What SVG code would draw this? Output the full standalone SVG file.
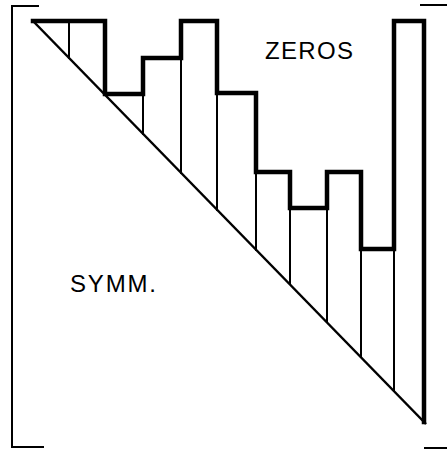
<svg xmlns="http://www.w3.org/2000/svg" width="447" height="449" viewBox="0 0 447 449">
<style>
.thin{stroke:#000;stroke-width:2;fill:none;stroke-linecap:square}
.thick{stroke:#000;stroke-width:4.5;fill:none;stroke-linejoin:miter;stroke-linecap:square}
.diag{stroke:#000;stroke-width:2.5;fill:none}
.lbl{font-family:"Liberation Sans",Arial,sans-serif;font-size:24px;fill:#000}
</style>
<rect width="447" height="449" fill="#fff"/>
<g id="brackets">
<path class="thin" d="M38,6 H12 V447 H43"/>
<path class="thin" d="M421,5 H447"/>
<path class="thin" d="M425,448 H447"/>
</g>
<g id="connectors">
<path class="diag" d="M33,21 L426,424"/>
<path class="thin" d="M69,21 V58 M143,93 V134 M181,58 V173 M217,93 V210 M256,172 V250 M290,208 V284 M327,208 V322 M361,249 V357 M394,249 V391"/>
<path class="thick" d="M33,21 H105 V94 H143 V58 H181 V21 H217 V93 H256 V172 H290 V208 H327 V172 H361 V249 H394 V21 H424 V422"/>
</g>
<g id="zeros"><text class="lbl" x="265" y="59" textLength="88" lengthAdjust="spacing">ZEROS</text></g>
<g id="symm"><text class="lbl" x="70" y="292" textLength="86" lengthAdjust="spacing">SYMM.</text></g>
</svg>
